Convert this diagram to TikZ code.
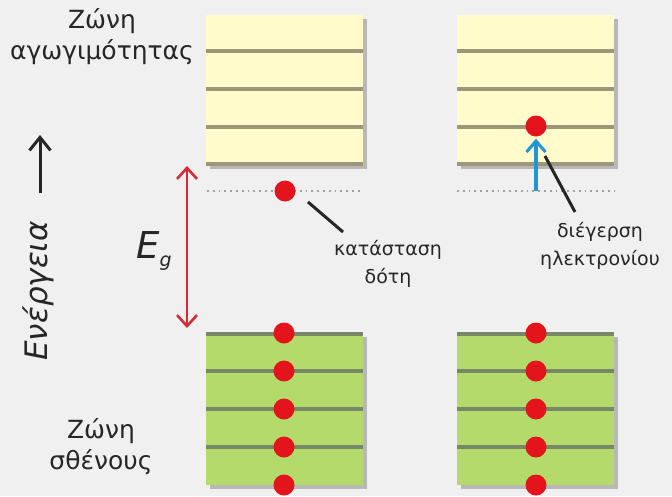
\documentclass[tikz,border=0pt]{standalone}
\usepackage{fontspec}
\setmainfont{DejaVu Sans}
\usetikzlibrary{arrows.meta,shadows}
\definecolor{bg}{HTML}{F0F0F0}
\definecolor{cband}{HTML}{FFFBCB}
\definecolor{cline}{HTML}{9E9679}
\definecolor{vband}{HTML}{B4DA6C}
\definecolor{vline}{HTML}{768866}
\definecolor{edot}{HTML}{E3141C}
\definecolor{gapred}{HTML}{D42A3A}
\definecolor{exblue}{HTML}{1E96D8}
\definecolor{txt}{HTML}{262626}
\begin{document}
\begin{tikzpicture}[x=1pt,y=-1pt,
  bandbox/.style={draw=none, inner sep=0pt, minimum width=157pt, minimum height=150pt,
    drop shadow={shadow xshift=4pt, shadow yshift=-4pt, opacity=0.4, fill=black!60}},
  bline/.style={line width=3.4pt},
  edotst/.style={circle, fill=edot, inner sep=0pt, minimum size=21pt},
  pointer/.style={line width=3pt, black!85},
  label/.style={text=txt, align=center, font=\fontsize{19}{28}\selectfont, inner sep=0pt},
  biglabel/.style={text=txt, align=center, font=\fontsize{25}{31}\selectfont, inner sep=0pt},
  level/.style={gray!75, line width=1.8pt, dash pattern=on 1.8pt off 4pt},
  gapbarb/.tip={Straight Barb[length=11pt,width=20pt,line width=2.6pt]}
]
\fill[bg] (0,0) rectangle (672,496);
\useasboundingbox (0,0) rectangle (672,496);

% conduction bands
\node[bandbox, fill=cband] (cbL) at (284.5,90) {};
\node[bandbox, fill=cband] (cbR) at (535.5,90) {};
\foreach \y in {51,89,127,164}{
  \draw[bline, cline] (cbL.west |- 0,\y) -- (cbL.east |- 0,\y);
  \draw[bline, cline] (cbR.west |- 0,\y) -- (cbR.east |- 0,\y);
}

% valence bands
\node[bandbox, fill=vband, minimum height=152pt] (vbL) at (284.5,409) {};
\node[bandbox, fill=vband, minimum height=152pt] (vbR) at (535.5,409) {};
\foreach \y in {334,371,409,447}{
  \draw[bline, vline] (vbL.west |- 0,\y) -- (vbL.east |- 0,\y);
  \draw[bline, vline] (vbR.west |- 0,\y) -- (vbR.east |- 0,\y);
}

% donor level
\draw[level] (207,191) -- (363,191);
\draw[level] (457,191) -- (614,191);

% electrons in valence band
\foreach \y [count=\i] in {333,371,409,447,485}{
  \node[edotst] (vL\i) at (284,\y) {};
  \node[edotst] (vR\i) at (536,\y) {};
}

% donor electron
\node[edotst] (don) at (285,191) {};
% excited electron
\node[edotst] (exc) at (536,126) {};
\coordinate (exbase) at (536,191);
\draw[exblue, line width=3.2pt, -{Straight Barb[length=11pt,width=19pt,line width=3pt]}] (exbase) -- ([yshift=-2pt]exc.south);

% pointers and labels
\node[label] (donlab) at (388,264) {κατάσταση\\δότη};
\coordinate (p1a) at (308,202);
\coordinate (p1b) at (343,232);
\draw[pointer] (p1a) -- (p1b);

\node[label] (exlab) at (600,246) {διέγερση\\ηλεκτρονίου};
\coordinate (p2a) at (545,156);
\coordinate (p2b) at (575,212);
\draw[pointer] (p2a) -- (p2b);

% energy gap arrow
\coordinate (ga) at (187,166);
\coordinate (gb) at (187,328);
\draw[gapred, line width=2.6pt, gapbarb-gapbarb] (ga) -- (gb);
\node[text=txt, inner sep=0pt, font=\fontsize{37}{37}\selectfont\itshape] (eg) at (154,251) {E\raisebox{-8pt}{\fontsize{19}{19}\selectfont g}};

% band names
\node[biglabel] (cbname) at (102,37) {Ζώνη\\αγωγιμότητας};
\node[biglabel] (vbname) at (101,447) {Ζώνη\\σθένους};

% energy axis
\coordinate (ea) at (40,193);
\coordinate (eb) at (40,135);
\draw[black!85, line width=3pt, -{Straight Barb[length=13pt,width=21pt,line width=3pt]}] (ea) -- (eb);
\node[text=txt, inner sep=0pt, rotate=90, font=\fontsize{31}{31}\selectfont\itshape] (energy) at (38,291) {Ενέργεια};
\end{tikzpicture}
\end{document}
